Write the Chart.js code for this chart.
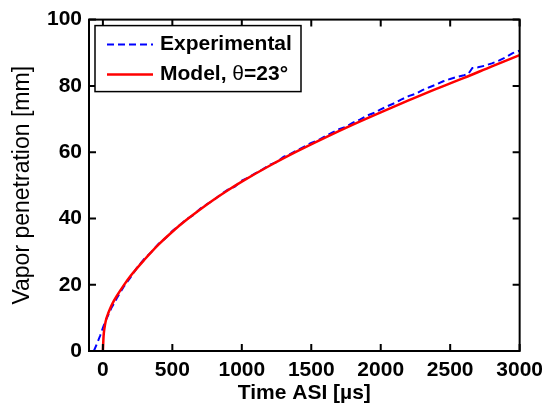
<!DOCTYPE html>
<html>
<head>
<meta charset="utf-8">
<script src="https://cdn.jsdelivr.net/npm/chart.js@4.4.0/dist/chart.umd.min.js"></script>
<style>
  html, body { margin: 0; padding: 0; background: #fff; }
</style>
</head>
<body>
<canvas id="penetration" width="550" height="407"></canvas>
<script>
//========================= Vapor penetration data ===========================
var expTime = [-65, -40, -20, 0, 20, 40, 60, 80, 100, 150, 200, 250, 300, 350, 400, 450, 500,
    550, 600, 650, 700, 750, 800, 850, 900, 950, 1000, 1050, 1100, 1150, 1200, 1250, 1300,
    1350, 1400, 1450, 1500, 1550, 1600, 1650, 1700, 1750, 1800, 1850, 1900, 1950, 2000,
    2050, 2100, 2150, 2200, 2250, 2300, 2350, 2400, 2450, 2500, 2550, 2600, 2630, 2660,
    2700, 2750, 2800, 2850, 2900, 2950, 3000];
var expPen = [0, 2.5, 4.6, 7.0, 9.2, 11.0, 12.9, 14.3, 15.9, 19.4, 22.3, 25.4, 27.9, 29.9, 32.3, 34.0, 36.2,
    37.9, 39.7, 41.0, 42.9, 44.3, 45.6, 47.3, 48.7, 49.6, 51.4, 52.4, 53.7, 54.8, 56.2, 57.0, 58.6,
    59.5, 60.6, 61.7, 62.8, 63.6, 64.8, 65.9, 66.9, 67.7, 68.9, 69.8, 71.0, 71.8, 72.9,
    73.9, 74.8, 75.9, 76.9, 77.6, 78.7, 79.6, 80.4, 81.4, 82.1, 82.7, 83.2, 83.6, 85.4,
    85.6, 86.1, 86.8, 87.6, 88.6, 89.9, 90.6];

var modelTime = [0, 5, 10, 20, 35, 50, 75, 100, 150, 200, 300, 400, 500, 600, 700, 800, 900,
    1000, 1200, 1400, 1600, 1800, 2000, 2200, 2400, 2600, 2800, 3000];
var modelPen = [0, 4.5, 6.5, 9.0, 11.0, 12.6, 14.8, 16.6, 19.8, 22.7, 27.6, 32.1, 36.0, 39.5, 42.7, 45.7, 48.5,
    51.1, 55.9, 60.3, 64.4, 68.3, 72.0, 75.6, 79.1, 82.4, 85.9, 89.3];

var xTicks = [0, 500, 1000, 1500, 2000, 2500, 3000];
var yTicks = [0, 20, 40, 60, 80, 100];
var legendLabels = ['Experimental', 'Model, '];

var fontFamily = '"Liberation Sans", Arial, Helvetica, sans-serif';

function toPoints(xs, ys) {
    return xs.map(function (x, i) { return { x: x, y: ys[i] }; });
}

// box frame, inward ticks on all four sides and the legend box
var frameAndLegend = {
    id: 'frameAndLegend',
    afterDatasetsDraw: function (chart) {
        var ctx = chart.ctx;
        var a = chart.chartArea;
        var xs = chart.scales.x, ys = chart.scales.y;
        var len = 7;
        ctx.save();
        ctx.strokeStyle = '#000';
        ctx.lineWidth = 2;
        ctx.beginPath();
        xTicks.forEach(function (v) {
            var px = xs.getPixelForValue(v);
            ctx.moveTo(px, a.bottom); ctx.lineTo(px, a.bottom - len);
            ctx.moveTo(px, a.top); ctx.lineTo(px, a.top + len);
        });
        yTicks.forEach(function (v) {
            var py = ys.getPixelForValue(v);
            ctx.moveTo(a.left, py); ctx.lineTo(a.left + len, py);
            ctx.moveTo(a.right, py); ctx.lineTo(a.right - len, py);
        });
        ctx.stroke();
        ctx.strokeRect(a.left, a.top, a.right - a.left, a.bottom - a.top);

        // legend
        var bx = a.left + 6, by = a.top + 6, bw = 206, bh = 66;
        ctx.fillStyle = '#fff';
        ctx.fillRect(bx, by, bw, bh);
        ctx.lineWidth = 1.5;
        ctx.strokeRect(bx, by, bw, bh);

        var rows = [by + 19, by + 49];
        ctx.lineWidth = 2;
        ctx.strokeStyle = '#0000ff';
        ctx.setLineDash([7, 4]);
        ctx.beginPath();
        ctx.moveTo(bx + 12, rows[0]); ctx.lineTo(bx + 58, rows[0]);
        ctx.stroke();
        ctx.setLineDash([]);
        ctx.strokeStyle = '#ff0000';
        ctx.lineWidth = 2.5;
        ctx.beginPath();
        ctx.moveTo(bx + 12, rows[1]); ctx.lineTo(bx + 58, rows[1]);
        ctx.stroke();

        ctx.fillStyle = '#000';
        ctx.textBaseline = 'middle';
        ctx.textAlign = 'left';
        var tx = bx + 65;
        ctx.font = 'bold 21px ' + fontFamily;
        ctx.fillText(legendLabels[0], tx, rows[0]);
        ctx.fillText(legendLabels[1], tx, rows[1]);
        var w = ctx.measureText(legendLabels[1]).width;
        ctx.font = '21px ' + fontFamily;
        ctx.fillText('\u03b8', tx + w, rows[1]);
        var w2 = ctx.measureText('\u03b8').width;
        ctx.font = 'bold 21px ' + fontFamily;
        ctx.fillText('=23\u00b0', tx + w + w2, rows[1]);
        ctx.restore();
    }
};

var chrt = document.getElementById('penetration').getContext('2d');
var penetrationChart = new Chart(chrt, {
    type: 'line',
    data: {
        datasets: [{
            label: 'Model',
            data: toPoints(modelTime, modelPen),
            borderColor: '#ff0000',
            borderWidth: 2.5,
            pointRadius: 0,
            cubicInterpolationMode: 'monotone',
            fill: false,
            order: 0,
        }, {
            label: 'Experimental',
            data: toPoints(expTime, expPen),
            borderColor: '#0000ff',
            borderWidth: 2,
            borderDash: [7, 4],
            pointRadius: 0,
            fill: false,
            order: 1,
        }],
    },
    options: {
        responsive: false,
        animation: false,
        layout: { padding: { top: 19, right: 28, bottom: 0, left: 0 } },
        plugins: {
            legend: { display: false },
            tooltip: { enabled: false },
        },
        scales: {
            x: {
                type: 'linear',
                min: -100,
                max: 3000,
                afterBuildTicks: function (s) { s.ticks = xTicks.map(function (v) { return { value: v }; }); },
                afterFit: function (s) { s.height = 56; },
                grid: { display: false, drawTicks: false },
                border: { display: false },
                ticks: {
                    color: '#000',
                    padding: 7,
                    maxRotation: 0,
                    autoSkip: false,
                    callback: function (v) { return String(v); },
                    font: { family: fontFamily, size: 21, weight: 'bold' },
                },
                title: {
                    display: true,
                    text: 'Time ASI [\u00b5s]',
                    color: '#000',
                    padding: { top: 0, bottom: 1 },
                    font: { family: fontFamily, size: 21, weight: 'bold' },
                },
            },
            y: {
                min: 0,
                max: 100,
                afterBuildTicks: function (s) { s.ticks = yTicks.map(function (v) { return { value: v }; }); },
                afterFit: function (s) { s.width = 89; },
                grid: { display: false, drawTicks: false },
                border: { display: false },
                ticks: {
                    color: '#000',
                    padding: 7,
                    callback: function (v) { return String(v); },
                    font: { family: fontFamily, size: 21, weight: 'bold' },
                },
                title: {
                    display: true,
                    text: 'Vapor penetration [mm]',
                    color: '#000',
                    padding: { top: 9, bottom: 0 },
                    font: { family: fontFamily, size: 23, weight: 'normal' },
                },
            },
        },
    },
    plugins: [frameAndLegend],
});
</script>
</body>
</html>
